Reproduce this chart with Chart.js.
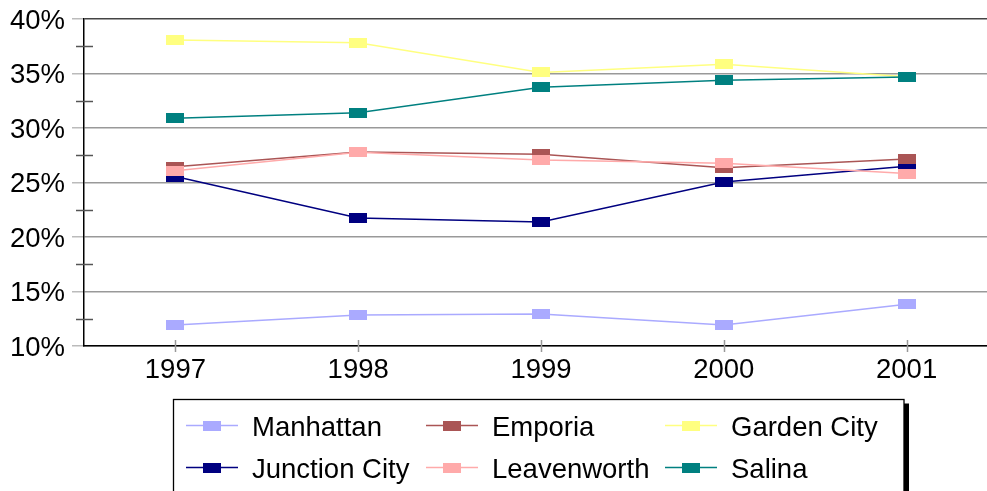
<!DOCTYPE html>
<html>
<head>
<meta charset="utf-8">
<title>Share by city, 1997–2001</title>
<script src="https://cdn.jsdelivr.net/npm/chart.js@4/dist/chart.umd.min.js"></script>
<style>
  html, body { margin: 0; padding: 0; background: #fff; overflow: hidden; }
  #wrap { position: relative; width: 998px; height: 491px; }
</style>
</head>
<body>
<div id="wrap"><canvas id="chart" width="998" height="491"></canvas></div>
<script>
// Categories and series (percent)
const years = ['1997', '1998', '1999', '2000', '2001'];
const manhattan    = [11.93, 12.84, 12.94, 11.93, 13.83];
const emporia      = [26.45, 27.8, 27.6, 26.35, 27.15];
const gardenCity   = [38.07, 37.83, 35.1, 35.84, 34.7];
const junctionCity = [25.55, 21.74, 21.38, 25.05, 26.5];
const leavenworth  = [26.08, 27.78, 27.06, 26.76, 25.82];
const salina       = [30.89, 31.4, 33.73, 34.38, 34.68];

const FONT = 'Liberation Sans, Arial, sans-serif';
const FONT_SIZE = 27.5;

// Rectangular marker (wider than tall) used as point style
function marker(color) {
  const c = document.createElement('canvas');
  c.width = 18; c.height = 10;
  const g = c.getContext('2d');
  g.fillStyle = color;
  g.fillRect(0, 0, 18, 10);
  return c;
}

function series(label, data, color, order) {
  return {
    label, data, order,
    borderColor: color,
    backgroundColor: color,
    borderWidth: 1.5,
    pointStyle: marker(color),
    pointRadius: 9,
    tension: 0,
    fill: false
  };
}

// Axis frame: minor y ticks and x ticks crossing the axis lines
const axisMarks = {
  id: 'axisMarks',
  beforeDatasetsDraw(chart) {
    const { ctx, chartArea: a, scales: { x, y } } = chart;
    ctx.save();
    ctx.lineWidth = 1.5;
    ctx.strokeStyle = '#555';
    const t = y.ticks.map(tk => tk.value);
    for (let i = 0; i < t.length - 1; i++) {
      const py = Math.round(y.getPixelForValue((t[i] + t[i + 1]) / 2)) + 0.5;
      ctx.beginPath();
      ctx.moveTo(a.left - 8, py);
      ctx.lineTo(a.left + 9, py);
      ctx.stroke();
    }
    ctx.strokeStyle = '#999';
    years.forEach((_, i) => {
      const px = Math.round(x.getPixelForValue(i)) + 0.5;
      ctx.beginPath();
      ctx.moveTo(px, a.bottom - 6);
      ctx.lineTo(px, a.bottom + 6);
      ctx.stroke();
    });
    ctx.restore();
  }
};

// Boxed legend in three columns with a drop shadow
const boxLegend = {
  id: 'boxLegend',
  afterDraw(chart, args, o) {
    const ctx = chart.ctx;
    const w = o.right - o.left, h = o.bottom - o.top;
    ctx.save();
    ctx.fillStyle = '#000';
    ctx.fillRect(o.left + 5, o.top + 4, w, h);
    ctx.fillStyle = '#fff';
    ctx.fillRect(o.left, o.top, w, h);
    ctx.strokeStyle = '#000';
    ctx.lineWidth = 1.3;
    ctx.strokeRect(o.left, o.top, w, h);
    ctx.font = FONT_SIZE + 'px ' + FONT;
    ctx.textBaseline = 'alphabetic';
    ctx.textAlign = 'left';
    chart.data.datasets.forEach((ds, i) => {
      const col = i % 3, row = Math.floor(i / 3);
      const x0 = o.colX[col], yc = o.rowY[row];
      ctx.strokeStyle = ds.borderColor;
      ctx.lineWidth = 1.3;
      ctx.beginPath();
      ctx.moveTo(x0, yc);
      ctx.lineTo(x0 + 52, yc);
      ctx.stroke();
      const m = ds.pointStyle;
      ctx.drawImage(m, x0 + 26 - m.width / 2, yc - m.height / 2);
      ctx.fillStyle = '#000';
      ctx.fillText(ds.label, x0 + 66, yc + 10);
    });
    ctx.restore();
  }
};

new Chart(document.getElementById('chart'), {
  type: 'line',
  data: {
    labels: years,
    datasets: [
      series('Manhattan', manhattan, '#aaaaff', 6),
      series('Emporia', emporia, '#aa5555', 4),
      series('Garden City', gardenCity, '#ffff80', 2),
      series('Junction City', junctionCity, '#000080', 5),
      series('Leavenworth', leavenworth, '#ffaaaa', 3),
      series('Salina', salina, '#008080', 1)
    ]
  },
  options: {
    responsive: false,
    animation: false,
    devicePixelRatio: 1,
    layout: { autoPadding: false, padding: 0 },
    plugins: {
      legend: { display: false },
      tooltip: { enabled: false },
      boxLegend: {
        left: 173.5, top: 399.5, right: 904, bottom: 520,
        colX: [186, 426, 665],
        rowY: [425.5, 467.5]
      }
    },
    scales: {
      x: {
        offset: true,
        grid: { display: false },
        border: { display: true, color: '#000', width: 1.5 },
        ticks: {
          color: '#000',
          padding: 0,
          maxRotation: 0,
          font: { family: FONT, size: FONT_SIZE }
        },
        afterFit(s) {
          s.height = 145;
          s.paddingLeft = 0;
          s.paddingRight = 0;
        }
      },
      y: {
        min: 10,
        max: 40,
        grid: {
          color: c => (c.tick && c.tick.value === 40) ? '#444' : '#999',
          lineWidth: 1.5,
          tickLength: 12,
          tickColor: '#bbb'
        },
        border: { display: true, color: '#000', width: 1.5 },
        ticks: {
          stepSize: 5,
          color: '#000',
          padding: 7,
          labelOffset: 2,
          font: { family: FONT, size: FONT_SIZE },
          callback: v => v + '%'
        },
        afterFit(s) {
          s.width = 84;
          s.paddingTop = 19;
          s.paddingBottom = 0;
        }
      }
    }
  },
  plugins: [axisMarks, boxLegend]
});
</script>
</body>
</html>
